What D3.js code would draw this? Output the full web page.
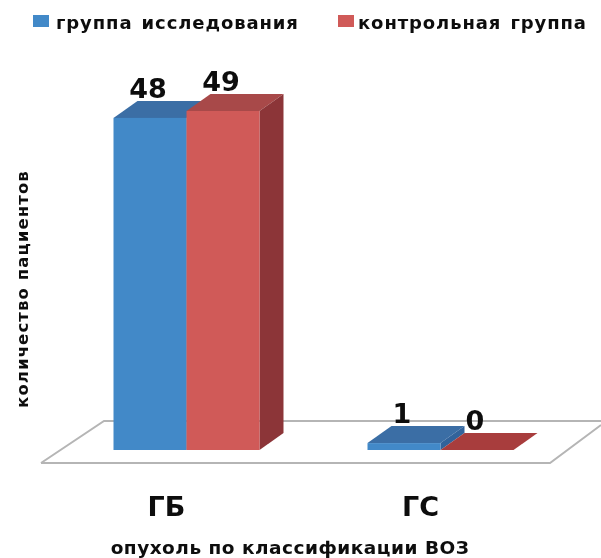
<!DOCTYPE html>
<html><head><meta charset="utf-8">
<script src="https://cdn.jsdelivr.net/npm/d3@7"></script>
<style>html,body{margin:0;padding:0;background:#fff}svg{display:block}text{font-family:"DejaVu Sans",sans-serif;font-weight:700;fill:#111}</style>
</head><body><svg id="c" width="601" height="558"></svg>
<script>
const categories = ["ГБ", "ГС"];
const seriesNames = ["группа исследования", "контрольная группа"];
const studyGroup = [48, 1];
const controlGroup = [49, 0];
const frontColors = ["#4389c8", "#d05a58"];
const topColors = ["#3a6ea5", "#a84a48"];
const sideColors = ["#33639b", "#8c3639"];
const zeroColors = ["#3a6ea5", "#a83c3c"];
const xTitle = "опухоль по классификации ВОЗ";
const yTitle = "количество пациентов";

const svg = d3.select("#c");
const defs = svg.append("defs");
defs.append("filter").attr("id","soft").append("feGaussianBlur").attr("stdDeviation",0.45);
const g = svg.append("g").attr("filter","url(#soft)");

const x = d3.scaleBand().domain(categories).range([59.5, 567.5]).paddingInner(0.4252).paddingOuter(0.2126);
const s = d3.scaleBand().domain([0,1]).range([0, x.bandwidth()]);
const y = d3.scaleLinear().domain([0, 49]).range([450, 111]);
const dx = 24, dy = -17;
const baseY = y(0);

// floor
g.append("path").attr("d", d3.line()([[41,463],[550,463],[601,425]])).attr("fill","none").attr("stroke","#b5b5b5").attr("stroke-width",2);
g.append("path").attr("d", d3.line()([[41,463],[104,421],[601,421]])).attr("fill","none").attr("stroke","#b5b5b5").attr("stroke-width",2);

const series = [studyGroup, controlGroup];
const poly = p => d3.line()(p) + "Z";
categories.forEach((c, ci) => {
  series.forEach((vals, si) => {
    const v = vals[ci], x0 = x(c) + s(si), w = s.bandwidth(), x1 = x0 + w, t = y(v);
    g.append("path").attr("d", poly([[x0,t],[x1,t],[x1+dx,t+dy],[x0+dx,t+dy]])).attr("fill", v === 0 ? zeroColors[si] : topColors[si]);
    if (v > 0) {
      g.append("path").attr("d", poly([[x1,baseY],[x1,t],[x1+dx,t+dy],[x1+dx,baseY+dy]])).attr("fill", sideColors[si]);
      g.append("rect").attr("x",x0).attr("y",t).attr("width",w).attr("height",baseY-t).attr("fill",frontColors[si]);
    }
  });
});

// value labels
categories.forEach((c, ci) => series.forEach((vals, si) => {
  const v = vals[ci];
  g.append("text").attr("x", x(c)+s(si)+s.bandwidth()/2-2).attr("y", y(v)-20)
    .attr("text-anchor","middle").attr("font-size",27).text(v);
}));

// category labels
categories.forEach(c => g.append("text").attr("x", x(c)+x.bandwidth()/2-20).attr("y",516).attr("text-anchor","middle").attr("font-size",27).text(c));

// titles
g.append("text").attr("x",290).attr("y",554).attr("text-anchor","middle").attr("font-size",18.5).attr("letter-spacing",0.5).text(xTitle);
g.append("text").attr("transform","translate(28,289) rotate(-90)").attr("text-anchor","middle").attr("font-size",16.5).attr("letter-spacing",1.1).text(yTitle);

// legend
const lx = [33, 338], tx = [56, 358];
seriesNames.forEach((n,i) => {
  g.append("rect").attr("x",lx[i]).attr("y",15).attr("width",16).attr("height",12).attr("fill",frontColors[i]);
  g.append("text").attr("x",tx[i]).attr("y",29).attr("font-size",18).attr("letter-spacing",0.9).attr("word-spacing",2).text(n);
});
</script></body></html>
